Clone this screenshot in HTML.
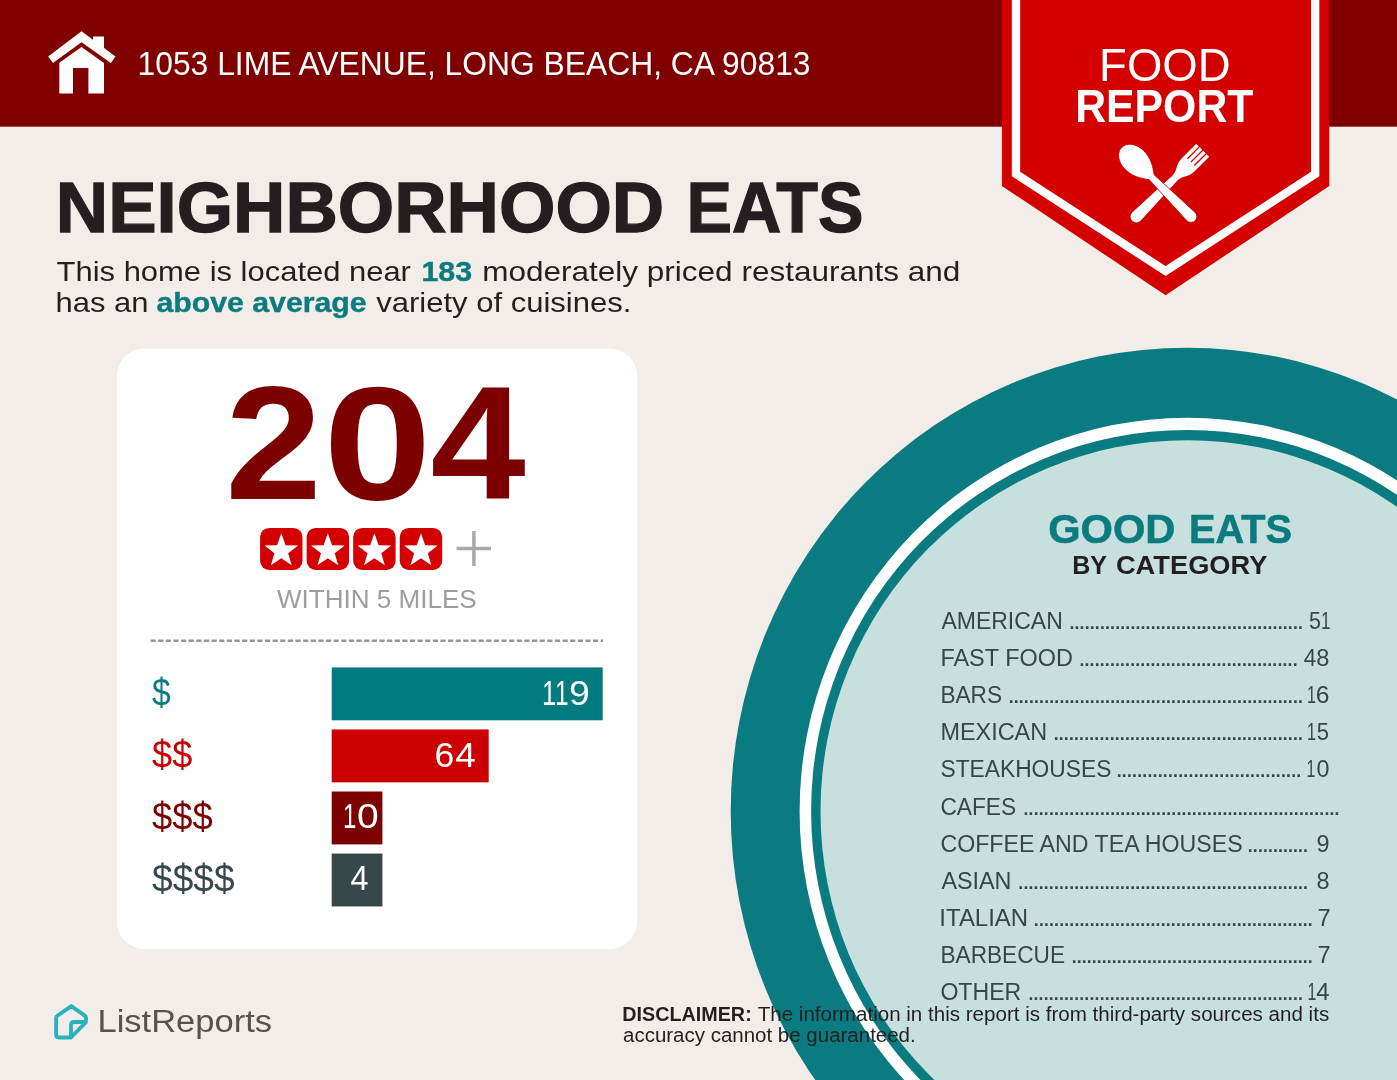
<!DOCTYPE html>
<html lang="en"><head><meta charset="utf-8"><title>Neighborhood Eats - Food Report</title>
<style>
html,body{margin:0;padding:0;background:#f2ede9;}
body{width:1397px;height:1080px;overflow:hidden;font-family:"Liberation Sans", sans-serif;}
svg{display:block;position:absolute;left:0;top:0;}
svg text{font-family:"Liberation Sans", sans-serif;white-space:pre;}
</style></head><body>
<svg width="1397" height="1080" viewBox="0 0 1397 1080">
<rect x="0" y="0" width="1397" height="1080" fill="#f2ede9"/>
<ellipse cx="1187.2" cy="811.2" rx="456.5" ry="463.5" fill="#0a7b80"/>
<ellipse cx="1187.2" cy="811.2" rx="387.6" ry="393.4" fill="#ffffff"/>
<ellipse cx="1187.2" cy="811.2" rx="376.1" ry="381.3" fill="#0a7b80"/>
<ellipse cx="1187.2" cy="811.2" rx="366.7" ry="371.0" fill="#c7e0de"/>
<rect x="0" y="0" width="1397" height="126.7" fill="#800000"/>
<g fill="#ffffff"><polygon points="48.2,56.5 81.5,31.2 115.5,56.5 110.9,63 81.5,42.2 52.9,63"/><polygon points="93,36.5 104,36.5 104,49 93,41"/><path d="M59.3,93.5 L59.3,62.7 L81.5,47 L104,62.9 L104,93.5 L88.4,93.5 L88.4,68 L73,68 L73,93.5 Z"/></g>
<polygon points="1001.9,0 1329.3,0 1329.3,185.9 1165.6,295.3 1001.9,185.9" fill="#d40000"/>
<path d="M1016,-5 L1016,174.1 L1165.6,271 L1315.2,174.1 L1315.2,-5" fill="none" stroke="#ffffff" stroke-width="8.3" stroke-linejoin="miter"/>
<g fill="#ffffff"><g transform="translate(1163.7 189.3) rotate(45)"><path d="M-9.1,-55.2 L-5.5,-55.2 L-5.5,-38.4 L-4.2,-38.4 L-4.2,-55.2 L-0.65,-55.2 L-0.65,-38.4 L0.65,-38.4 L0.65,-55.2 L4.2,-55.2 L4.2,-38.4 L5.5,-38.4 L5.5,-55.2 L9.1,-55.2 L9.1,-35 C9.1,-25.5 4.0,-24.5 3.4,-16 L5.9,38.6 A5.9,5.9 0 0 1 -5.9,38.6 L-3.4,-16 C-4.0,-24.5 -9.1,-25.5 -9.1,-35 Z"/></g><g transform="translate(1163.7 189.3) rotate(-45)"><path stroke="#c00000" stroke-width="0.8" d="M0,-59.3 C7.5,-59.3 13.2,-51.5 13.2,-41.5 C13.2,-31 8.5,-24 3.5,-17 L5.9,38.6 A5.9,5.9 0 0 1 -5.9,38.6 L-3.5,-17 C-8.5,-24 -13.2,-31 -13.2,-41.5 C-13.2,-51.5 -7.5,-59.3 0,-59.3 Z"/></g></g>
<rect x="117" y="348.6" width="520" height="600.3" rx="27" ry="27" fill="#ffffff"/>
<rect x="260.10" y="527.9" width="42.4" height="42.1" rx="9" fill="#d40000"/>
<polygon points="281.30,533.30 285.53,545.18 298.13,545.53 288.15,553.22 291.70,565.32 281.30,558.20 270.90,565.32 274.45,553.22 264.47,545.53 277.07,545.18" fill="#ffffff"/>
<rect x="306.65" y="527.9" width="42.4" height="42.1" rx="9" fill="#d40000"/>
<polygon points="327.85,533.30 332.08,545.18 344.68,545.53 334.70,553.22 338.25,565.32 327.85,558.20 317.45,565.32 321.00,553.22 311.02,545.53 323.62,545.18" fill="#ffffff"/>
<rect x="353.20" y="527.9" width="42.4" height="42.1" rx="9" fill="#d40000"/>
<polygon points="374.40,533.30 378.63,545.18 391.23,545.53 381.25,553.22 384.80,565.32 374.40,558.20 364.00,565.32 367.55,553.22 357.57,545.53 370.17,545.18" fill="#ffffff"/>
<rect x="399.75" y="527.9" width="42.4" height="42.1" rx="9" fill="#d40000"/>
<polygon points="420.95,533.30 425.18,545.18 437.78,545.53 427.80,553.22 431.35,565.32 420.95,558.20 410.55,565.32 414.10,553.22 404.12,545.53 416.72,545.18" fill="#ffffff"/>
<path d="M456.5,548.4 H491.1 M473.9,531 V566" stroke="#a9a9a9" stroke-width="3.5" fill="none"/>
<line x1="150.5" y1="640.8" x2="603" y2="640.8" stroke="#979797" stroke-width="2.6" stroke-dasharray="5.2 2.43"/>
<rect x="331.7" y="667.40" width="271" height="52.9" fill="#007b7f"/>
<rect x="331.7" y="729.45" width="157" height="52.9" fill="#cc0000"/>
<rect x="331.7" y="791.50" width="50.7" height="52.9" fill="#7d0000"/>
<rect x="331.7" y="853.55" width="50.7" height="52.9" fill="#38474a"/>
<path d="M71.3,1006.1 L57.3,1015.8 Q56.1,1016.5 56.1,1018 L56.1,1034.5 Q56.1,1037.5 59.1,1037.5 L71,1037.5 L85,1023.2 Q86,1022.2 86,1020.5 L86,1018 Q86,1016.5 84.8,1015.6 Z M71,1037.5 L71,1025 Q71,1022 74,1022 L86,1022" fill="none" stroke="#27b2be" stroke-width="3.8" stroke-linejoin="round" stroke-linecap="round"/>
<text x="1068.18" y="628.80" font-size="26.5" fill="#36474b" letter-spacing="-2.283">..............................................</text>
<text x="1078.18" y="665.95" font-size="26.5" fill="#36474b" letter-spacing="-2.285">...........................................</text>
<text x="1007.38" y="703.10" font-size="26.5" fill="#36474b" letter-spacing="-2.286">..........................................................</text>
<text x="1052.38" y="740.25" font-size="26.5" fill="#36474b" letter-spacing="-2.271">.................................................</text>
<text x="1115.38" y="777.40" font-size="26.5" fill="#36474b" letter-spacing="-2.229">....................................</text>
<text x="1022.18" y="814.55" font-size="26.5" fill="#36474b" letter-spacing="-2.261">..............................................................</text>
<text x="1246.58" y="851.70" font-size="26.5" fill="#36474b" letter-spacing="-2.337">............</text>
<text x="1017.08" y="888.85" font-size="26.5" fill="#36474b" letter-spacing="-2.277">.........................................................</text>
<text x="1032.58" y="926.00" font-size="26.5" fill="#36474b" letter-spacing="-2.289">.......................................................</text>
<text x="1070.38" y="963.15" font-size="26.5" fill="#36474b" letter-spacing="-2.338">................................................</text>
<text x="1027.18" y="1000.30" font-size="26.5" fill="#36474b" letter-spacing="-2.276">......................................................</text>
<text y="74.60" font-size="32.7" font-weight="400" fill="#ffffff" x="137.56" textLength="672.98" lengthAdjust="spacingAndGlyphs">1053 LIME AVENUE, LONG BEACH, CA 90813</text>
<text y="232.40" font-size="70.8" font-weight="700" fill="#231f20" stroke="#231f20" stroke-width="1.3" x="55.80" textLength="608.38" lengthAdjust="spacingAndGlyphs">NEIGHBORHOOD</text>
<text y="232.40" font-size="70.8" font-weight="700" fill="#231f20" stroke="#231f20" stroke-width="1.3" x="686.55" textLength="176.90" lengthAdjust="spacingAndGlyphs">EATS</text>
<text y="281.30" font-size="28.5" font-weight="400" fill="#231f20" x="56.60" textLength="354.35" lengthAdjust="spacingAndGlyphs">This home is located near</text>
<text y="281.30" font-size="28.5" font-weight="700" fill="#0b7b80" stroke="#0b7b80" stroke-width="0.4" x="421.43" textLength="50.78" lengthAdjust="spacingAndGlyphs">183</text>
<text y="281.30" font-size="28.5" font-weight="400" fill="#231f20" x="482.19" textLength="478.15" lengthAdjust="spacingAndGlyphs">moderately priced restaurants and</text>
<text y="312.00" font-size="28.5" font-weight="400" fill="#231f20" x="55.51" textLength="93.00" lengthAdjust="spacingAndGlyphs">has an</text>
<text y="312.00" font-size="28.5" font-weight="700" fill="#0b7b80" stroke="#0b7b80" stroke-width="0.4" x="156.40" textLength="210.30" lengthAdjust="spacingAndGlyphs">above average</text>
<text y="312.00" font-size="28.5" font-weight="400" fill="#231f20" x="376.20" textLength="255.19" lengthAdjust="spacingAndGlyphs">variety of cuisines.</text>
<text y="81.00" font-size="45.5" font-weight="400" fill="#ffffff" x="1099.10" textLength="131.46" lengthAdjust="spacingAndGlyphs">FOOD</text>
<text y="122.40" font-size="45.5" font-weight="700" fill="#ffffff" x="1075.18" textLength="178.23" lengthAdjust="spacingAndGlyphs">REPORT</text>
<text y="499.00" font-size="161" font-weight="700" fill="#7d0000"><tspan x="225.31" textLength="96.57" lengthAdjust="spacingAndGlyphs">2</tspan><tspan x="323.24" textLength="108.38" lengthAdjust="spacingAndGlyphs">0</tspan><tspan x="430.57" textLength="95.20" lengthAdjust="spacingAndGlyphs">4</tspan></text>
<text y="608.20" font-size="26.6" font-weight="400" fill="#9d9d9d" x="277.00" textLength="199.72" lengthAdjust="spacingAndGlyphs">WITHIN 5 MILES</text>
<text y="705.80" font-size="38.3" font-weight="400" fill="#0b7b80" x="152.10" textLength="18.66" lengthAdjust="spacingAndGlyphs">$</text>
<text y="767.80" font-size="38.3" font-weight="400" fill="#cc0000" x="152.10" textLength="40.18" lengthAdjust="spacingAndGlyphs">$$</text>
<text y="829.80" font-size="38.3" font-weight="400" fill="#7d0000" x="152.10" textLength="60.68" lengthAdjust="spacingAndGlyphs">$$$</text>
<text y="891.80" font-size="38.3" font-weight="400" fill="#38474a" x="152.10" textLength="82.39" lengthAdjust="spacingAndGlyphs">$$$$</text>
<text y="704.60" font-size="34.4" font-weight="400" fill="#ffffff"><tspan x="542.00" textLength="14.23" lengthAdjust="spacingAndGlyphs">1</tspan><tspan x="554.97" textLength="13.52" lengthAdjust="spacingAndGlyphs">1</tspan><tspan x="569.01" textLength="20.81" lengthAdjust="spacingAndGlyphs">9</tspan></text>
<text y="766.50" font-size="34.4" font-weight="400" fill="#ffffff"><tspan x="434.56" textLength="19.80" lengthAdjust="spacingAndGlyphs">6</tspan><tspan x="455.30" textLength="20.54" lengthAdjust="spacingAndGlyphs">4</tspan></text>
<text y="828.40" font-size="34.4" font-weight="400" fill="#ffffff"><tspan x="343.08" textLength="13.40" lengthAdjust="spacingAndGlyphs">1</tspan><tspan x="357.06" textLength="21.71" lengthAdjust="spacingAndGlyphs">0</tspan></text>
<text y="890.30" font-size="34.4" font-weight="400" fill="#ffffff" x="350.60" textLength="17.92" lengthAdjust="spacingAndGlyphs">4</text>
<text y="543.30" font-size="40.7" font-weight="700" fill="#0b7b80" stroke="#0b7b80" stroke-width="0.6" x="1048.18" textLength="127.24" lengthAdjust="spacingAndGlyphs">GOOD</text>
<text y="543.30" font-size="40.7" font-weight="700" fill="#0b7b80" stroke="#0b7b80" stroke-width="0.6" x="1188.95" textLength="102.96" lengthAdjust="spacingAndGlyphs">EATS</text>
<text y="573.70" font-size="25.6" font-weight="700" fill="#231f20" x="1072.32" textLength="34.75" lengthAdjust="spacingAndGlyphs">BY</text>
<text y="573.70" font-size="25.6" font-weight="700" fill="#231f20" x="1115.93" textLength="151.54" lengthAdjust="spacingAndGlyphs">CATEGORY</text>
<text y="628.80" font-size="23.7" font-weight="400" fill="#36474b" x="941.40" textLength="121.37" lengthAdjust="spacingAndGlyphs">AMERICAN</text>
<text y="628.80" font-size="23.7" font-weight="400" fill="#36474b"><tspan x="1309.00" textLength="11.96" lengthAdjust="spacingAndGlyphs">5</tspan><tspan x="1320.92" textLength="9.51" lengthAdjust="spacingAndGlyphs">1</tspan></text>
<text y="665.95" font-size="23.7" font-weight="400" fill="#36474b" x="940.41" textLength="132.48" lengthAdjust="spacingAndGlyphs">FAST FOOD</text>
<text y="665.95" font-size="23.7" font-weight="400" fill="#36474b"><tspan x="1303.70" textLength="12.46" lengthAdjust="spacingAndGlyphs">4</tspan><tspan x="1316.20" textLength="13.17" lengthAdjust="spacingAndGlyphs">8</tspan></text>
<text y="703.10" font-size="23.7" font-weight="400" fill="#36474b" x="940.44" textLength="61.62" lengthAdjust="spacingAndGlyphs">BARS</text>
<text y="703.10" font-size="23.7" font-weight="400" fill="#36474b"><tspan x="1307.06" textLength="8.96" lengthAdjust="spacingAndGlyphs">1</tspan><tspan x="1315.66" textLength="13.72" lengthAdjust="spacingAndGlyphs">6</tspan></text>
<text y="740.25" font-size="23.7" font-weight="400" fill="#36474b" x="940.41" textLength="106.68" lengthAdjust="spacingAndGlyphs">MEXICAN</text>
<text y="740.25" font-size="23.7" font-weight="400" fill="#36474b"><tspan x="1307.06" textLength="8.96" lengthAdjust="spacingAndGlyphs">1</tspan><tspan x="1316.70" textLength="12.26" lengthAdjust="spacingAndGlyphs">5</tspan></text>
<text y="777.40" font-size="23.7" font-weight="400" fill="#36474b" x="940.44" textLength="170.93" lengthAdjust="spacingAndGlyphs">STEAKHOUSES</text>
<text y="777.40" font-size="23.7" font-weight="400" fill="#36474b"><tspan x="1306.57" textLength="8.85" lengthAdjust="spacingAndGlyphs">1</tspan><tspan x="1316.40" textLength="12.97" lengthAdjust="spacingAndGlyphs">0</tspan></text>
<text y="814.55" font-size="23.7" font-weight="400" fill="#36474b" x="940.44" textLength="75.73" lengthAdjust="spacingAndGlyphs">CAFES</text>
<text y="851.70" font-size="23.7" font-weight="400" fill="#36474b" x="940.43" textLength="302.24" lengthAdjust="spacingAndGlyphs">COFFEE AND TEA HOUSES</text>
<text y="851.70" font-size="23.7" font-weight="400" fill="#36474b" x="1316.51" textLength="13.06" lengthAdjust="spacingAndGlyphs">9</text>
<text y="888.85" font-size="23.7" font-weight="400" fill="#36474b" x="941.40" textLength="70.09" lengthAdjust="spacingAndGlyphs">ASIAN</text>
<text y="888.85" font-size="23.7" font-weight="400" fill="#36474b" x="1316.51" textLength="13.06" lengthAdjust="spacingAndGlyphs">8</text>
<text y="926.00" font-size="23.7" font-weight="400" fill="#36474b" x="939.38" textLength="88.74" lengthAdjust="spacingAndGlyphs">ITALIAN</text>
<text y="926.00" font-size="23.7" font-weight="400" fill="#36474b" x="1317.40" textLength="13.17" lengthAdjust="spacingAndGlyphs">7</text>
<text y="963.15" font-size="23.7" font-weight="400" fill="#36474b" x="940.44" textLength="124.62" lengthAdjust="spacingAndGlyphs">BARBECUE</text>
<text y="963.15" font-size="23.7" font-weight="400" fill="#36474b" x="1317.40" textLength="13.17" lengthAdjust="spacingAndGlyphs">7</text>
<text y="1000.30" font-size="23.7" font-weight="400" fill="#36474b" x="940.42" textLength="80.85" lengthAdjust="spacingAndGlyphs">OTHER</text>
<text y="1000.30" font-size="23.7" font-weight="400" fill="#36474b"><tspan x="1307.57" textLength="8.85" lengthAdjust="spacingAndGlyphs">1</tspan><tspan x="1316.30" textLength="13.28" lengthAdjust="spacingAndGlyphs">4</tspan></text>
<text y="1020.50" font-size="19.6" font-weight="700" fill="#231f20" x="622.29" textLength="129.44" lengthAdjust="spacingAndGlyphs">DISCLAIMER:</text>
<text y="1020.50" font-size="19.6" font-weight="400" fill="#231f20" x="757.70" textLength="571.49" lengthAdjust="spacingAndGlyphs">The information in this report is from third-party sources and its</text>
<text y="1042.00" font-size="19.6" font-weight="400" fill="#231f20" x="623.00" textLength="292.71" lengthAdjust="spacingAndGlyphs">accuracy cannot be guaranteed.</text>
<text y="1032.40" font-size="32.1" font-weight="400" fill="#57524f" x="97.45" textLength="174.57" lengthAdjust="spacingAndGlyphs">ListReports</text>
</svg>
</body></html>
